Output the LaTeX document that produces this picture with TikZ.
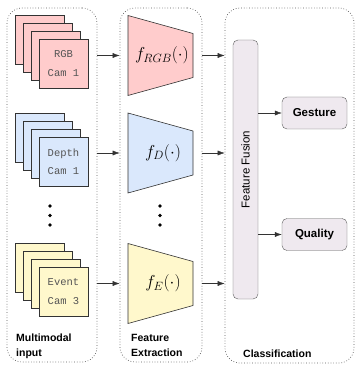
\documentclass[tikz,border=0pt]{standalone}
\usepackage{fontspec}
\setsansfont{Liberation Sans}
\setmonofont{Liberation Mono}
\usetikzlibrary{arrows.meta}
\definecolor{rgbfill}{HTML}{FFCCCC}
\definecolor{depthfill}{HTML}{DAE8FC}
\definecolor{eventfill}{HTML}{FFF8CC}
\definecolor{fusefill}{HTML}{EFE9EF}
\definecolor{edge}{HTML}{333333}
\definecolor{camtxt}{HTML}{555555}

\tikzset{
panel/.style={draw=black!65, dotted, line width=0.7pt, rounded corners=15pt, inner sep=0pt},
cam/.style={draw=edge, line width=0.8pt, minimum size=49pt, inner sep=0pt, align=center, text=camtxt, font=\ttfamily\fontsize{10.5}{18.5}\selectfont},
fe/.style={draw=edge, line width=0.6pt},
ftext/.style={font=\fontsize{17}{20}\selectfont},
outbox/.style={draw=edge!80, rounded corners=5pt, fill=fusefill, minimum width=65pt, minimum height=32pt, font=\sffamily\bfseries\fontsize{11.5}{14}\selectfont},
arr/.style={draw=edge, -{Latex[length=7pt,width=5pt]}},
lbl/.style={font=\sffamily\bfseries\fontsize{10.5}{15}\selectfont, align=left, inner sep=0pt}
}

\begin{document}
\begin{tikzpicture}[x=1pt,y=-1pt]
\useasboundingbox (0,0) rectangle (355,366);

% panels
\node[panel, minimum width=90pt, minimum height=354pt] (pin) at (52,185) {};
\node[panel, minimum width=82pt, minimum height=354pt] (pfe) at (161,185) {};
\node[panel, minimum width=129pt, minimum height=355pt] (pcls) at (289.5,185.5) {};

% camera stacks
\foreach \i in {0,1,2} {
  \node[cam, fill=rgbfill] (rgb\i) at ({39.5+8*\i},{39.5+8*\i}) {};
  \node[cam, fill=depthfill] (dep\i) at ({39.5+8*\i},{137.5+8*\i}) {};
  \node[cam, fill=eventfill] (evt\i) at ({39.5+8*\i},{267.5+8*\i}) {};
}
\node[cam, fill=rgbfill] (rgb3) at (63.5,63.5) {RGB\\Cam 1};
\node[cam, fill=depthfill] (dep3) at (63.5,161.5) {Depth\\Cam 1};
\node[cam, fill=eventfill] (evt3) at (63.5,291.5) {Event\\Cam 3};

% feature extractors
\draw[fe, fill=rgbfill] (128,15.5) -- (193,33.5) -- (193,77.5) -- (128,95.5) -- cycle;
\draw[fe, fill=depthfill] (128,113) -- (193,131) -- (193,175) -- (128,193) -- cycle;
\draw[fe, fill=eventfill] (128,243.5) -- (193,261.5) -- (193,305.5) -- (128,323.5) -- cycle;
\node[ftext] (frgb) at (162,55.5) {$f_{RGB}(\cdot)$};
\node[ftext] (fdep) at (163,153) {$f_{D}(\cdot)$};
\node[ftext] (fevt) at (163,283.5) {$f_{E}(\cdot)$};

% dots
\foreach \y in {206,215.5,225} {
  \fill (50,\y) circle (1.8pt);
  \fill (160,\y) circle (1.8pt);
}

% classification
\node[draw=edge!80, rounded corners=5pt, fill=fusefill, minimum width=259pt, minimum height=25pt, rotate=90, font=\sffamily\fontsize{11.5}{14}\selectfont] (fuse) at (245.5,169.5) {Feature Fusion};
\node[outbox] (gest) at (314.5,113) {Gesture};
\node[outbox] (qual) at (314.5,234.5) {Quality};

% arrows
\foreach \f in {frgb,fdep,fevt} {
  \draw[arr] (pin.east |- \f) -- (pfe.west |- \f);
  \draw[arr] (pfe.east |- \f) -- (pcls.west |- \f);
}
\draw[arr] (gest.west -| fuse.south) -- (gest.west);
\draw[arr] (qual.west -| fuse.south) -- (qual.west);

% labels
\node[lbl, anchor=north west] (lin) at (16,334) {Multimodal\\input};
\node[lbl, anchor=north west] (lfe) at (131,334) {Feature\\Extraction};
\node[lbl, anchor=base west] (lcls) at (243,357) {Classification};
\end{tikzpicture}
\end{document}
